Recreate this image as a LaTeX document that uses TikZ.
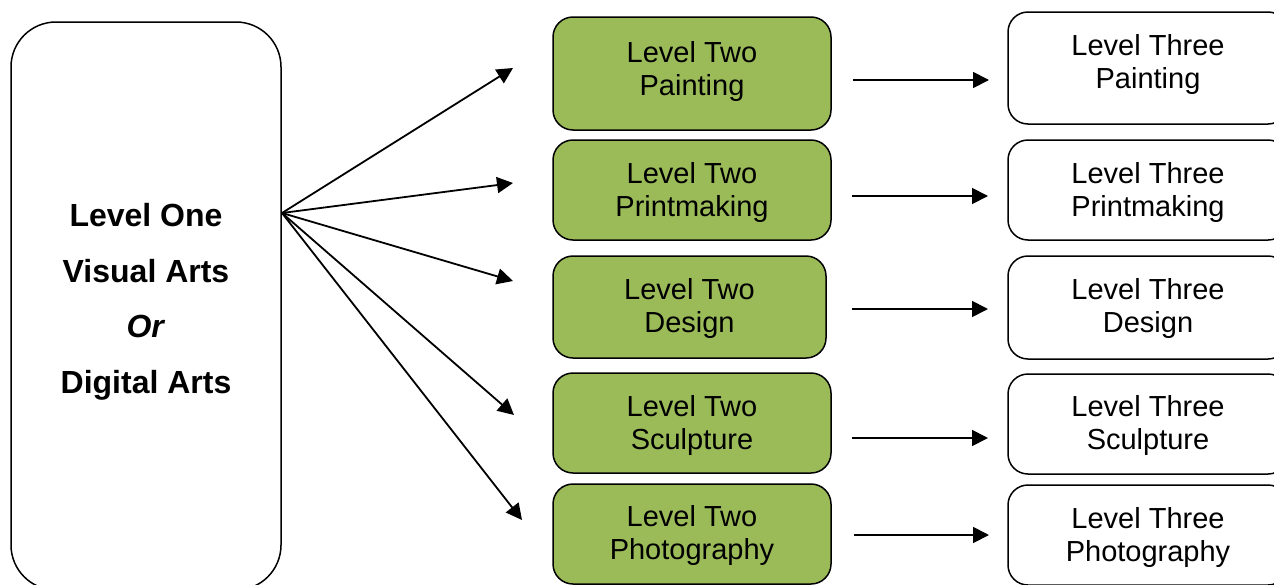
\documentclass[tikz,border=0pt]{standalone}
\usepackage{fontspec}
\setmainfont{Liberation Sans}
\usetikzlibrary{arrows.meta}
\definecolor{olivegreen}{RGB}{155,187,89}
\begin{document}
\begin{tikzpicture}[x=1pt,y=-1pt,
  box/.style={draw=black, line width=1.5pt, rounded corners=20pt, align=center,
    font=\fontsize{29}{33}\selectfont, inner sep=0pt},
  two/.style={box, fill=olivegreen, minimum width=278pt},
  three/.style={box, fill=white, minimum width=280pt},
  txt/.style={align=center, inner sep=0pt, font=\fontsize{29}{33}\selectfont},
  arr/.style={-{Triangle[length=16pt,width=16pt]}, line width=1.8pt}]
\useasboundingbox (0,0) rectangle (1274,584);
\clip (0,0) rectangle (1274,584);

% level one
\node[box, rounded corners=45pt, minimum width=270pt, minimum height=568pt] (one) at (146,306) {};
\node[txt, font=\bfseries\fontsize{32}{55.5}\selectfont] (onet) at (146,302)
  {Level One\\Visual Arts\\\textit{Or}\\Digital Arts};

% level two
\node[two, minimum height=113pt] (p2) at (692,73.5) {};
\node[txt] (p2t) at (692,71) {Level Two\\Painting};
\node[two, minimum height=100pt] (r2) at (692,190) {};
\node[txt] (r2t) at (692,192) {Level Two\\Printmaking};
\node[two, minimum width=273pt, minimum height=102pt] (d2) at (689.5,307) {};
\node[txt] (d2t) at (689.5,308) {Level Two\\Design};
\node[two, minimum height=100pt] (s2) at (692,423) {};
\node[txt] (s2t) at (692,425) {Level Two\\Sculpture};
\node[two, minimum height=100pt] (h2) at (692,534) {};
\node[txt] (h2t) at (692,535) {Level Two\\Photography};

% level three
\node[three, minimum height=112pt] (p3) at (1148,68) {};
\node[txt] (p3t) at (1148,64) {Level Three\\Painting};
\node[three, minimum height=100pt] (r3) at (1148,190) {};
\node[txt] (r3t) at (1148,192) {Level Three\\Printmaking};
\node[three, minimum height=103pt] (d3) at (1148,307.5) {};
\node[txt] (d3t) at (1148,308) {Level Three\\Design};
\node[three, minimum height=100pt] (s3) at (1148,424) {};
\node[txt] (s3t) at (1148,425) {Level Three\\Sculpture};
\node[three, minimum height=100pt] (h3) at (1148,535) {};
\node[txt] (h3t) at (1148,537) {Level Three\\Photography};

% fan arrows
\coordinate (fan) at (282,213);
\coordinate (f1) at (513,68);
\coordinate (f2) at (513,183);
\coordinate (f3) at (513,281);
\coordinate (f4) at (514,415);
\coordinate (f5) at (522,520);
\foreach \t in {f1,f2,f3,f4,f5} \draw[arr] (fan) -- (\t);

% horizontal arrows
\coordinate (a1) at (853,80);  \coordinate (b1) at (989,80);
\coordinate (a2) at (852,196); \coordinate (b2) at (988,196);
\coordinate (a3) at (852,309); \coordinate (b3) at (988,309);
\coordinate (a4) at (852,438); \coordinate (b4) at (988,438);
\coordinate (a5) at (854,535); \coordinate (b5) at (989,535);
\foreach \i in {1,...,5} \draw[arr] (a\i) -- (b\i);
\end{tikzpicture}
\end{document}
